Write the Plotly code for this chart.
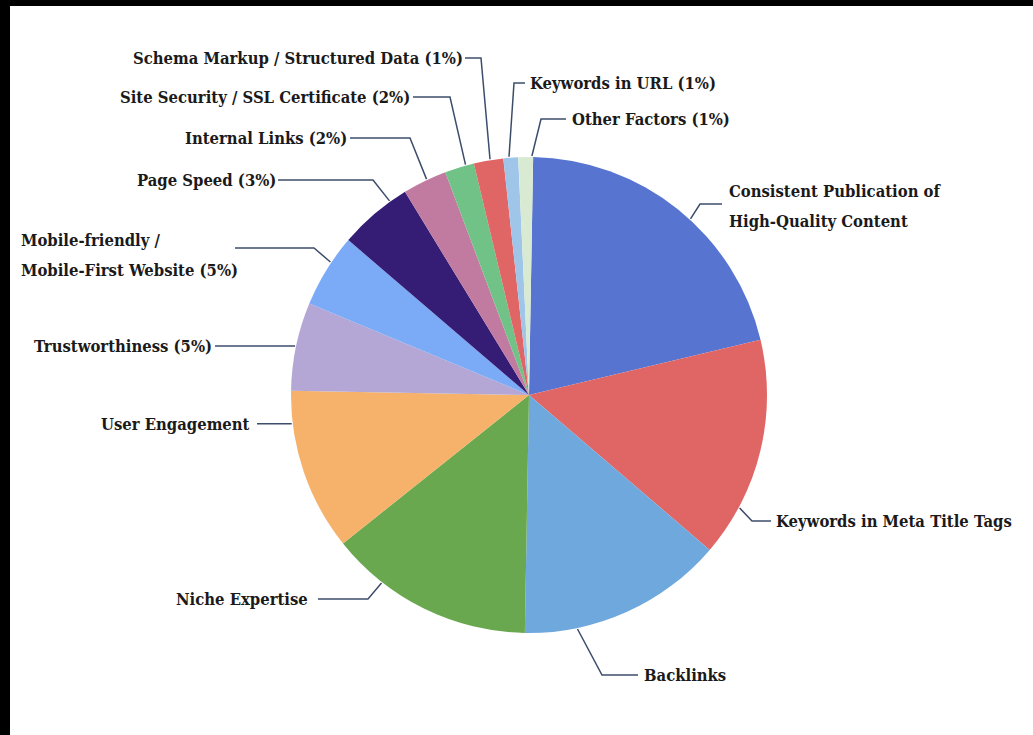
import math
import plotly.graph_objects as go

# ---------------- data ----------------
categories = [
    "Consistent Publication of High-Quality Content",
    "Keywords in Meta Title Tags",
    "Backlinks",
    "Niche Expertise",
    "User Engagement",
    "Trustworthiness",
    "Mobile-friendly / Mobile-First Website",
    "Page Speed",
    "Internal Links",
    "Site Security / SSL Certificate",
    "Schema Markup / Structured Data",
    "Keywords in URL",
    "Other Factors",
]
values = [21, 15, 14, 14, 11, 6, 5, 5, 3, 2, 2, 1, 1]
colors = ["#5775D0", "#E06666", "#6FA8DC", "#6AA84F", "#F6B26B", "#B4A7D6",
          "#7BAAF7", "#351C75", "#C27BA0", "#71C287", "#E06666", "#9FC5E8", "#D9EAD3"]
label_lines = [
    ["Consistent Publication of", "High-Quality Content"],
    ["Keywords in Meta Title Tags"],
    ["Backlinks"],
    ["Niche Expertise"],
    ["User Engagement"],
    ["Trustworthiness (5%)"],
    ["Mobile-friendly /", "Mobile-First Website (5%)"],
    ["Page Speed (3%)"],
    ["Internal Links (2%)"],
    ["Site Security / SSL Certificate (2%)"],
    ["Schema Markup / Structured Data (1%)"],
    ["Keywords in URL (1%)"],
    ["Other Factors (1%)"],
]

# ---------------- layout geometry (pixels) ----------------
W, H = 1033, 735
CX, CY, R = 529, 395, 238
ROTATION = 1

# leader: start angle on pie edge (deg clockwise from 12 o'clock), elbow, end x,
# text anchor x, text y of first line, anchor side
leaders = [
    (42.5, (700, 204), 722, 727, 191, "left"),
    (118.2, (752, 521), 771, 774, 521, "left"),
    (168.3, (602, 675), 638, 642, 675, "left"),
    (218.1, (368, 599), 318, 310, 599, "right"),
    (263.1, None, 257, 252, 424, "right"),
    (281.8, None, 215, 214, 346, "right"),
    (303.8, (314, 248), 235, 19, 240, "left"),
    (324.3, (373, 180), 278, 278, 180, "right"),
    (334.6, (410, 138), 350, 349, 138, "right"),
    (344.6, (450, 97), 413, 412, 97, "right"),
    (350.6, (481, 58), 465, 465, 58, "right"),
    (355.2, (514, 83), 525, 528, 83, "left"),
    (0.7, (541, 119), 566, 570, 119, "left"),
]
LINE_GAP = 30
FONT = dict(family="DejaVu Serif Condensed", size=16.5, color="#1a1a1a", weight="bold")
LEADER_COLOR = "#3C4D6B"

fig = go.Figure()

fig.add_trace(go.Pie(
    labels=categories,
    values=values,
    sort=False,
    direction="clockwise",
    rotation=ROTATION,
    marker=dict(colors=colors, line=dict(width=0)),
    textinfo="none",
    hoverinfo="label+percent",
    showlegend=False,
    domain=dict(x=[(CX - R) / W, (CX + R) / W],
                y=[(H - CY - R) / H, (H - CY + R) / H]),
))

shapes = [
    dict(type="rect", xref="x", yref="y", x0=10, x1=W, y0=6, y1=H,
         fillcolor="white", line=dict(width=0), layer="below"),
]
annotations = []
for (ang, elbow, end_x, tx, ty, side), lines in zip(leaders, label_lines):
    a = math.radians(ang)
    sx = CX + (R + 1) * math.sin(a)
    sy = CY - (R + 1) * math.cos(a)
    pts = [(sx, sy)]
    if elbow is not None:
        pts.append(elbow)
        pts.append((end_x, elbow[1]))
    else:
        pts.append((end_x, sy))
    path = "M " + " L ".join(f"{x:.1f},{y:.1f}" for x, y in pts)
    shapes.append(dict(type="path", xref="x", yref="y", path=path,
                       line=dict(color=LEADER_COLOR, width=1.5)))
    for i, t in enumerate(lines):
        annotations.append(dict(
            x=tx, y=ty + i * LINE_GAP, xref="x", yref="y", text=t,
            showarrow=False, xanchor=side, yanchor="middle",
            font=FONT))

fig.update_layout(
    width=W, height=H,
    margin=dict(l=0, r=0, t=0, b=0),
    paper_bgcolor="black",
    plot_bgcolor="rgba(0,0,0,0)",
    xaxis=dict(range=[0, W], visible=False, fixedrange=True, domain=[0, 1]),
    yaxis=dict(range=[H, 0], visible=False, fixedrange=True, domain=[0, 1]),
    shapes=shapes,
    annotations=annotations,
    showlegend=False,
)

fig.write_html("out.html")
